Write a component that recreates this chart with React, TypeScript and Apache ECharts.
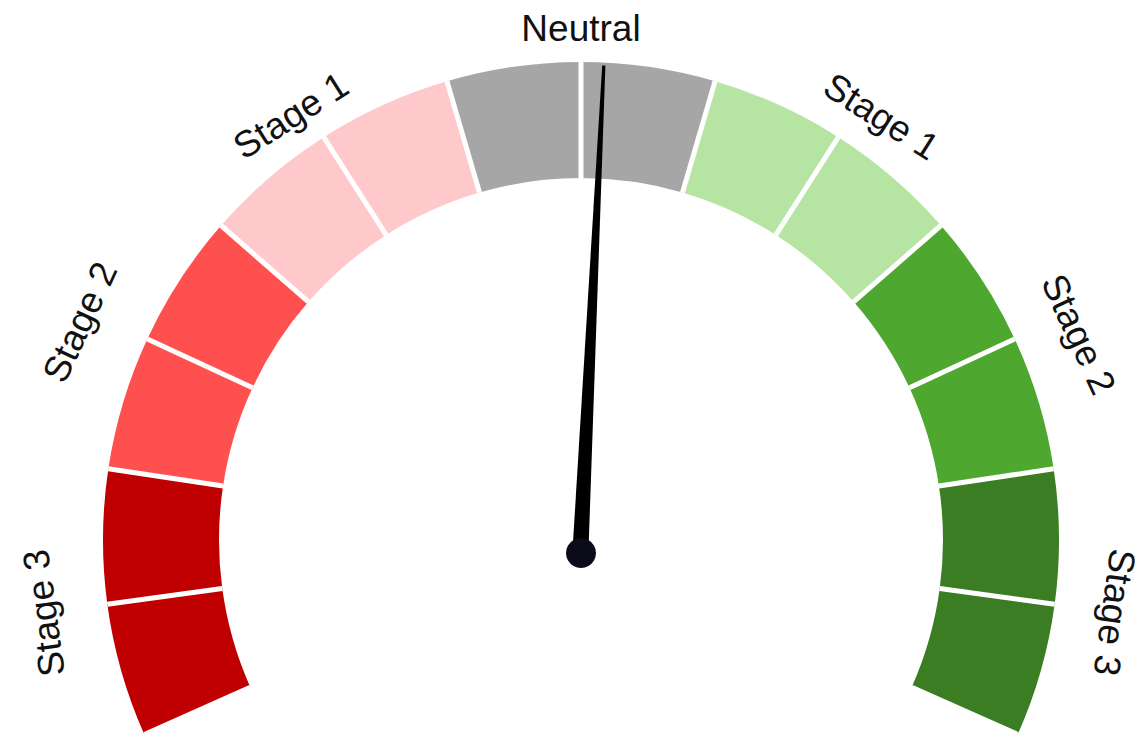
import React, { useEffect, useRef } from "react";
import * as echarts from "echarts";

// Gauge bands (two segments each), left to right
const stageLabels = ["Stage 3", "Stage 2", "Stage 1", "Neutral", "Stage 1", "Stage 2", "Stage 3"];
const segmentsPerStage = 2;
const gaugeMin = 0;
const gaugeMax = 14;
const needleValue = [7.17];

const bandColors = ["#C00000", "#FF5050", "#FFC9CC", "#A6A6A6", "#B5E4A3", "#4EA72E", "#3A7D22"];

// per-label nudge (text padding [top, right, bottom, left]) to match label placement
const labelPads = [
  [0, 0, 60, 0],
  [0, 26, 68, 0],
  [0, 32, 4, 0],
  [0, 0, 0, 0],
  [0, 0, 12, 50],
  [0, 0, 52, 46],
  [0, 0, 52, 0],
];

export default function App() {
  const ref = useRef<HTMLDivElement>(null);

  useEffect(() => {
    if (!ref.current) return;
    const chart = echarts.init(ref.current, null, { renderer: "svg" });
    const nStages = stageLabels.length;
    const colorStops = bandColors.map((c, i) => [(i + 1) / nStages, c]);
    const bandWidth = 116;
    const fontFamily = "Liberation Sans, Arial, sans-serif";
    const rich: Record<string, any> = {};
    labelPads.forEach((p, i) => {
      rich["l" + i] = { fontSize: 37, fontFamily, color: "#111111", padding: p };
    });
    const option = {
      animation: false,
      backgroundColor: "#ffffff",
      series: [
        {
          type: "gauge",
          center: [581, 540],
          radius: 478,
          startAngle: 204,
          endAngle: -24,
          min: gaugeMin,
          max: gaugeMax,
          splitNumber: nStages * segmentsPerStage,
          axisLine: {
            show: true,
            lineStyle: { width: bandWidth, color: colorStops },
          },
          progress: { show: false },
          splitLine: {
            show: true,
            distance: -bandWidth,
            length: bandWidth,
            lineStyle: { color: "#ffffff", width: 5 },
          },
          axisTick: { show: false },
          axisLabel: {
            show: true,
            distance: -34,
            rotate: "tangential",
            color: "#111111",
            fontSize: 37,
            fontFamily,
            rich,
            formatter: (v: number) => {
              const idx = Math.round(v);
              if (idx % 2 === 1) {
                const k = (idx - 1) / 2;
                return "{l" + k + "|" + stageLabels[k] + "}";
              }
              return "";
            },
          },
          pointer: {
            show: true,
            icon: "path://M4,0 L6,0 L10,100 L0,100 Z",
            length: 488,
            width: 16,
            offsetCenter: [0, 13],
            itemStyle: { color: "#000000" },
          },
          anchor: {
            show: true,
            showAbove: true,
            size: 30,
            offsetCenter: [0, 13],
            itemStyle: { color: "#0b0b1a" },
          },
          title: { show: false },
          detail: { show: false },
          data: needleValue.map((v) => ({ value: v })),
        },
      ],
    };
    chart.setOption(option as any);
    return () => chart.dispose();
  }, []);

  return (
    <div
      ref={ref}
      style={{ position: "fixed", left: 0, top: 0, width: 1143, height: 737 }}
    />
  );
}
